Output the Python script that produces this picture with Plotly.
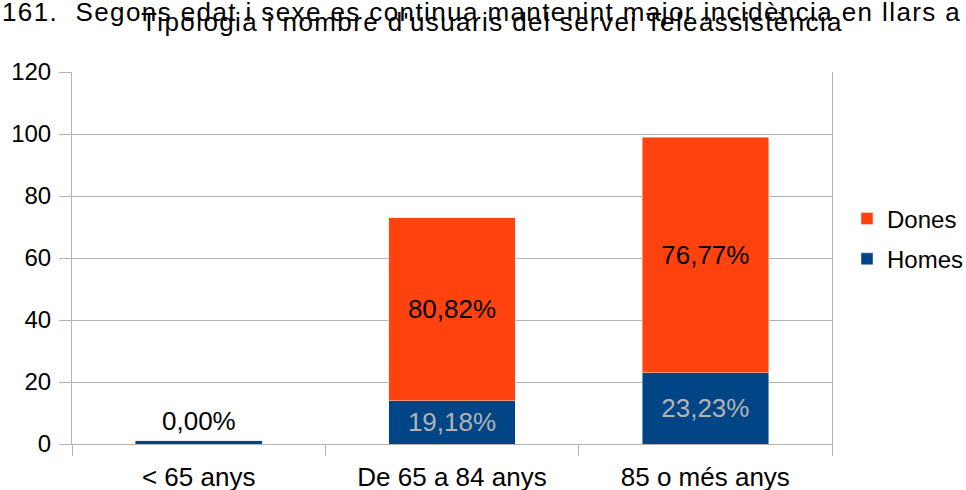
import plotly.graph_objects as go

categories = ["< 65 anys", "De 65 a 84 anys", "85 o més anys"]
homes = [1, 14, 23]
dones = [0, 59, 76]
homes_pct = ["", "19,18%", "23,23%"]
dones_pct = ["0,00%", "80,82%", "76,77%"]
y_ticks = [0, 20, 40, 60, 80, 100, 120]

title_main = "Tipologia i nombre d'usuaris del servei Teleassistència"
title_over = "161.\u00a0\u00a0Segons edat i sexe es continua mantenint major incidència en llars a"

BLUE = "#004586"
ORANGE = "#ff420e"
GRID = "#b3b3b3"
FONT = "Liberation Sans, Arial, sans-serif"

W, H = 966, 490
L, R, T, B = 72, 134, 72, 46
ph = H - T - B
pw = W - L - R

fig = go.Figure()
fig.add_trace(go.Bar(
    x=categories, y=homes, name="Homes", marker_color=BLUE, width=0.5,
    text=homes_pct, textposition="inside", insidetextanchor="middle",
    textangle=0, constraintext="none", cliponaxis=False,
    textfont=dict(color="#b3b3b3", size=26, family=FONT),
    legendgroup="h", legendrank=2, hoverinfo="x+y",
))
dones_text = [t if v > 0 else "" for t, v in zip(dones_pct, dones)]
fig.add_trace(go.Bar(
    x=categories, y=dones, name="Dones", marker_color=ORANGE, width=0.5,
    text=dones_text, textposition="inside", insidetextanchor="middle",
    textangle=0, constraintext="none", cliponaxis=False,
    textfont=dict(color="#000000", size=26, family=FONT),
    legendgroup="d", legendrank=1, hoverinfo="x+y",
))

annotations = []
# label for zero-height segments, above the stack
for c, h, d, t in zip(categories, homes, dones, dones_pct):
    if d == 0:
        annotations.append(dict(x=c, y=h + d, xref="x", yref="y", text=t,
                                showarrow=False, yanchor="bottom", yshift=3,
                                font=dict(size=26, color="#000000", family=FONT)))

def py(p):
    return (H - B - p) / ph

annotations.append(dict(x=(0 - L) / pw, y=py(12), xref="paper", yref="paper",
                        xanchor="left", yanchor="middle",
                        text='<span style="letter-spacing:1.4px">' + title_over + '</span>',
                        showarrow=False, font=dict(size=26, color="#000000", family=FONT)))
annotations.append(dict(x=(492 - L) / pw, y=py(22), xref="paper", yref="paper",
                        xanchor="center", yanchor="middle",
                        text='<span style="letter-spacing:1.4px">' + title_main + '</span>',
                        showarrow=False, font=dict(size=26, color="#000000", family=FONT)))

fig.update_layout(
    width=W, height=H,
    margin=dict(l=L, r=R, t=T, b=B, pad=0, autoexpand=False),
    barmode="stack",
    bargap=0.5,
    plot_bgcolor="white", paper_bgcolor="white",
    font=dict(family=FONT, size=24, color="#000000"),
    showlegend=True,
    legend=dict(x=(847 - L) / pw, xanchor="left", y=py(239), yanchor="middle",
                font=dict(size=24, family=FONT), tracegroupgap=6,
                traceorder="grouped",
                bgcolor="rgba(0,0,0,0)"),
    annotations=annotations,
)
fig.update_xaxes(
    type="category", tickson="boundaries", ticks="outside", ticklen=11,
    tickcolor=GRID, showline=True, linecolor=GRID, linewidth=1,
    showgrid=False, tickfont=dict(size=26, family=FONT), fixedrange=True,
    ticklabelstandoff=10, automargin=False,
)
fig.update_yaxes(
    range=[0, 120], tickvals=y_ticks, ticks="outside", ticklen=12,
    tickcolor=GRID, showline=True, linecolor=GRID, linewidth=1, mirror=True,
    showgrid=True, gridcolor=GRID, gridwidth=1, zeroline=False,
    tickfont=dict(size=24, family=FONT), fixedrange=True,
    ticklabelstandoff=3, automargin=False,
)

fig.write_html("out.html", config={"displayModeBar": False},
               post_script="document.body.style.margin='0';")
